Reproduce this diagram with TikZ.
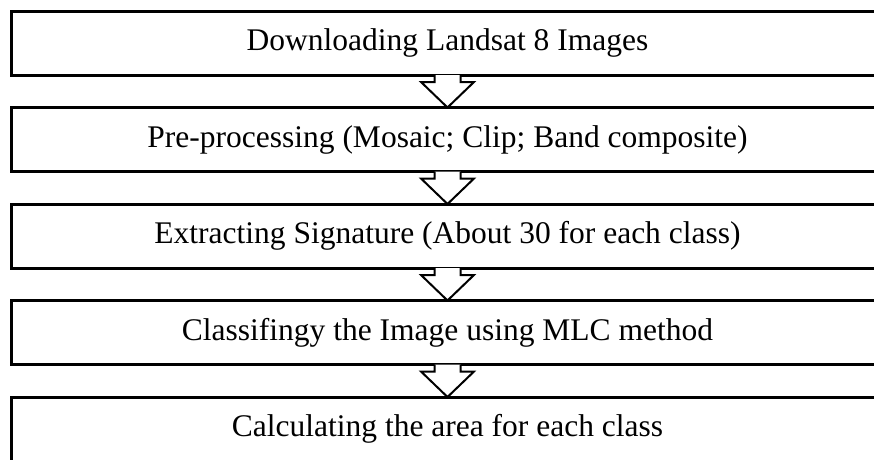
\documentclass[tikz,border=0pt]{standalone}
\usepackage{fontspec}
\setmainfont{Liberation Serif}
\usepackage{tikz}
\usetikzlibrary{positioning,calc}

\begin{document}
\begin{tikzpicture}[
    x=1pt, y=-1pt,
    node distance=32.5pt,
    stage/.style={draw, line width=3pt, rectangle, minimum width=872pt, minimum height=64pt, inner sep=0pt, outer sep=0pt, font=\fontsize{31.5}{36}\selectfont},
    flow/.style={line width=2pt, line join=miter},
]
\useasboundingbox (0,0) rectangle (874,459);
\clip (0,0) rectangle (874,459);

\node[stage] (dl) at (447.5,43) {Downloading Landsat 8 Images};
\node[stage, below=of dl] (pre) {Pre-processing (Mosaic; Clip; Band composite)};
\node[stage, below=of pre] (sig) {Extracting Signature (About 30 for each class)};
\node[stage, below=of sig] (mlc) {Classifingy the Image using MLC method};
\node[stage, below=of mlc] (area) {Calculating the area for each class};

% hollow block arrows between the stages
\foreach \a/\b in {dl/pre, pre/sig, sig/mlc, mlc/area} {
  \fill[white] ($(\a.south)+(-13,0)$) -- ++(0,7) -- ++(-13.5,0) -- (\b.north)
    -- ($(\a.south)+(26.5,7)$) -- ++(-13.5,0) -- ++(0,-7) -- cycle;
  \draw[flow] ($(\a.south)+(-13,0)$) -- ++(0,7) -- ++(-13.5,0) -- (\b.north)
    -- ($(\a.south)+(26.5,7)$) -- ++(-13.5,0) -- ++(0,-7);
}
\end{tikzpicture}
\end{document}
